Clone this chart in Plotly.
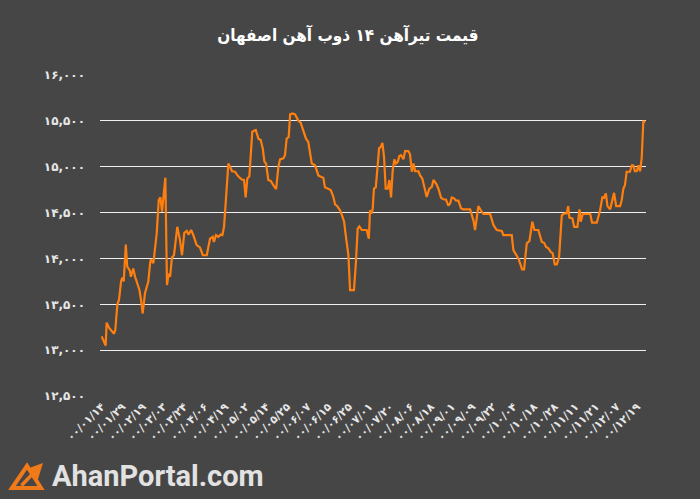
import plotly.graph_objects as go

# ---- data ----
day_index = [0.0, 1.9, 2.4, 3.7, 6.0, 6.6, 7.6, 8.4, 9.4, 10.0, 10.7, 11.7, 12.4, 13.6, 14.2, 15.3, 16.2,
             18.3, 19.1, 19.9, 21.0, 22.6, 23.5, 23.9, 25.1, 26.0, 26.7, 27.7, 28.5, 29.3, 30.3, 30.9,
             31.7, 32.5, 33.2, 34.1, 35.1, 36.7, 38.0, 39.0, 40.1, 41.3, 42.1, 43.4, 44.5, 46.1, 47.7,
             49.1, 51.0, 52.6, 53.9, 54.5, 55.5, 56.6, 57.8, 58.6, 59.4, 60.4, 61.5, 62.3, 63.3, 64.7,
             66.3, 68.0, 69.1, 69.9, 70.7, 71.7, 73.1, 74.8, 76.1, 77.2, 78.2, 79.0, 79.8, 80.9, 82.1,
             83.3, 84.7, 85.8, 86.6, 88.2, 89.0, 89.8, 90.8, 91.5, 92.6, 93.9, 95.5, 96.6, 97.9, 99.2,
             100.3, 102.0, 103.6, 105.2, 106.4, 107.6, 108.4, 110.1, 111.2, 112.5, 113.3, 114.4, 115.7,
             116.9, 117.7, 118.6, 119.8, 120.6, 122.5, 123.4, 124.3, 125.1, 126.3, 128.7, 129.7, 130.3,
             131.1, 131.6, 132.2, 133.1, 133.8, 134.7, 135.5, 136.3, 137.1, 137.9, 138.9, 139.7, 140.5,
             141.3, 142.1, 142.9, 143.8, 144.5, 145.4, 146.5, 147.3, 148.9, 149.7, 150.6, 151.4, 152.2,
             153.8, 154.6, 155.7, 157.0, 157.8, 159.1, 160.3, 161.1, 162.4, 163.5, 164.8, 165.9, 167.2,
             168.3, 169.2, 170.0, 171.1, 172.1, 173.2, 174.5, 175.6, 178.9, 180.5, 181.3, 182.1, 182.9,
             184.1, 185.3, 188.6, 190.2, 191.8, 194.3, 195.0, 199.1, 199.9, 201.2, 202.3, 203.5, 204.1,
             205.1, 206.4, 207.7, 209.1, 210.1, 212.0, 213.7, 214.8, 215.8, 216.9, 218.1, 219.0, 220.0,
             221.0, 222.1, 223.4, 224.5, 225.8, 226.5, 227.1, 228.6, 229.4, 231.0, 232.0, 232.6, 233.6,
             237.2, 238.1, 240.4, 242.0, 243.1, 243.9, 244.8, 245.6, 246.9, 247.7, 248.8, 249.8, 251.7,
             252.5, 253.3, 254.1, 254.9, 256.5, 257.4, 258.1, 258.9, 259.8, 260.6, 261.4, 262.2, 263.0,
             264.0]

price = [13150, 13050, 13300, 13240, 13180, 13220, 13500, 13550, 13750, 13790, 13750, 14150, 13910, 13870,
         13800, 13890, 13800,
         13660, 13545, 13400, 13620, 13745, 13945, 13990, 13950, 14110, 14270, 14635, 14665, 14510, 14710,
         14880,
         13710, 13835, 13800, 14010, 14035, 14345, 14200, 14035, 14280, 14300, 14260, 14310, 14255, 14145,
         14120,
         14035, 14035, 14215, 14235, 14180, 14255, 14235, 14260, 14255, 14345, 14635, 15035, 15000, 14950,
         14945,
         14895, 14860, 14855, 14665, 14870, 14895, 15380, 15400, 15305, 15290, 15200, 15055, 15035, 14855,
         14845,
         14800, 14755, 15000, 15080, 15090, 15125, 15305, 15325, 15570, 15580, 15570, 15500, 15480, 15400,
         15305,
         15270, 15035, 15015, 14905, 14890, 14880, 14775, 14760, 14745, 14670, 14590, 14570, 14525,
         14455, 14400, 14235, 14035, 13655, 13655, 13945, 14325, 14350, 14310, 14310, 14215, 14525,
         14490, 14545, 14760, 14775, 15000, 15200, 15215, 15260, 15105, 14760, 14760, 14855, 14665,
         14960, 15080, 15035, 15055, 15115, 15125, 15080, 15170, 15170, 15135, 14945, 15035, 14950,
         14950, 14905, 14870, 14745, 14670, 14760, 14780, 14855, 14815, 14760, 14660, 14645, 14640,
         14575, 14600, 14665, 14655, 14630, 14630, 14545, 14535, 14535, 14415, 14310, 14435, 14570,
         14525, 14485, 14485, 14365, 14310, 14300, 14255, 14255, 14090, 14045, 14000, 13925, 13880,
         13880, 14165, 14190, 14400, 14310, 14310, 14180, 14170, 14125, 14110, 14070, 14055, 13935,
         13935, 14015, 14470, 14490, 14490, 14570, 14445, 14435, 14345, 14345, 14535, 14400, 14485,
         14485, 14390, 14390, 14525, 14665, 14660, 14710, 14570, 14535, 14600, 14715, 14570, 14570,
         14635, 14760, 14800, 14945, 14945, 15015, 15015, 14950, 14950, 15015, 14950, 15090, 15490,
         15490]

tick_index = [0, 10, 20, 30, 40, 50, 60, 70, 80, 90, 100, 110, 120, 130, 140, 150, 160, 170, 180,
              190, 200, 210, 220, 230, 240, 250, 260]
tick_labels = ["۰۰/۰۱/۱۴", "۰۰/۰۱/۲۹", "۰۰/۰۲/۱۹", "۰۰/۰۳/۰۳", "۰۰/۰۳/۲۴", "۰۰/۰۴/۰۶",
               "۰۰/۰۴/۱۹", "۰۰/۰۵/۰۲", "۰۰/۰۵/۱۴", "۰۰/۰۵/۲۵", "۰۰/۰۶/۰۷", "۰۰/۰۶/۱۵",
               "۰۰/۰۶/۲۵", "۰۰/۰۷/۰۱", "۰۰/۰۷/۲۰", "۰۰/۰۸/۰۶", "۰۰/۰۸/۱۸", "۰۰/۰۹/۰۱",
               "۰۰/۰۹/۰۹", "۰۰/۰۹/۲۲", "۰۰/۱۰/۰۴", "۰۰/۱۰/۱۸", "۰۰/۱۰/۲۸", "۰۰/۱۱/۱۱",
               "۰۰/۱۱/۲۱", "۰۰/۱۲/۰۷", "۰۰/۱۲/۱۹"]

y_ticks = [12500, 13000, 13500, 14000, 14500, 15000, 15500, 16000]
y_labels = ["۱۲,۵۰۰", "۱۳,۰۰۰", "۱۳,۵۰۰", "۱۴,۰۰۰", "۱۴,۵۰۰", "۱۵,۰۰۰", "۱۵,۵۰۰", "۱۶,۰۰۰"]

title_text = "قیمت تیرآهن ۱۴ ذوب آهن اصفهان"
brand_text = "AhanPortal.com"

# ---- figure ----
BG = "#464646"
W, H = 700, 499
ML, MR, MT, MB = 100, 54, 74, 102


def px2paper(px, py):
    return (px - ML) / (W - ML - MR), (H - MB - py) / (H - MT - MB)


fig = go.Figure()
fig.add_trace(go.Scatter(x=day_index, y=price, mode="lines",
                         line=dict(color="#ff7f0e", width=2.2), hoverinfo="skip"))

# logo icon (decorative)
pts = [(12, 488), (27, 466), (41, 488)]
p = [px2paper(*q) for q in pts]
fig.add_shape(type="path", xref="paper", yref="paper",
              path=f"M {p[0][0]} {p[0][1]} L {p[1][0]} {p[1][1]} L {p[2][0]} {p[2][1]} Z",
              line=dict(color="#f07a1a", width=4), fillcolor="rgba(0,0,0,0)")
a1 = px2paper(43, 463)
fig.add_annotation(x=a1[0], y=a1[1], ax=-23, ay=24, xref="paper", yref="paper",
                   axref="pixel", ayref="pixel", text="", showarrow=True,
                   arrowhead=2, arrowsize=0.9, arrowwidth=3.5, arrowcolor="#f07a1a")
bx, by = px2paper(50, 476)
fig.add_annotation(x=bx, y=by, xref="paper", yref="paper", text=brand_text, showarrow=False,
                   xanchor="left", yanchor="middle",
                   font=dict(family="Roboto", size=29, color="#e2e2e2", weight="bold"))

fig.update_layout(
    width=W, height=H,
    paper_bgcolor=BG, plot_bgcolor=BG,
    margin=dict(l=ML, r=MR, t=MT, b=MB),
    showlegend=False,
    title=dict(text=title_text, x=0.497, xanchor="center", y=0.93, yanchor="middle",
               font=dict(family="DejaVu Sans Condensed, DejaVu Sans", size=17, color="#ffffff",
                         weight="bold")),
    xaxis=dict(range=[-0.83, 264.3], tickmode="array", tickvals=tick_index, ticktext=tick_labels,
               tickangle=-45, showgrid=False, zeroline=False, showline=False, ticks="",
               automargin=False,
               tickfont=dict(family="DejaVu Sans", size=11, color="#e6e6e6", weight="bold")),
    yaxis=dict(range=[12490, 16010], tickmode="array", tickvals=y_ticks, ticktext=y_labels,
               showgrid=True, gridcolor="#eeeeee", gridwidth=1, zeroline=False, showline=False,
               ticks="", ticklabelstandoff=14, automargin=False,
               tickfont=dict(family="DejaVu Sans", size=12, color="#e6e6e6", weight="bold")),
)

fig.write_html("out.html", config={"displayModeBar": False},
               post_script="document.body.style.margin='0';document.body.style.background='#464646';")
